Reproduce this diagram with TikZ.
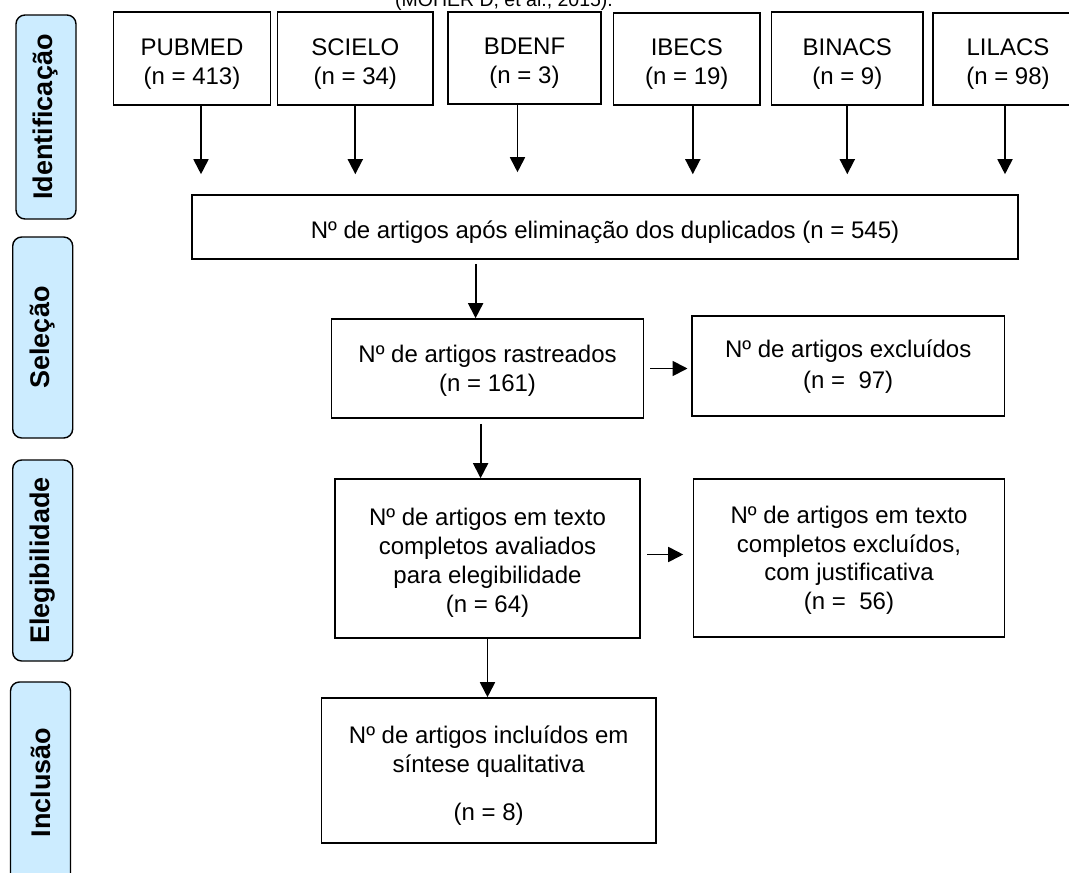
\documentclass[tikz,border=0pt]{standalone}
\usepackage{fontspec}
\setmainfont{Liberation Sans}
\usetikzlibrary{arrows.meta, positioning}

\definecolor{azulfase}{RGB}{204,236,255}

\tikzset{
    caixa/.style={draw, line width=1.6pt, align=center, inner sep=0pt,
        font=\fontsize{24}{28.7}\selectfont},
    base/.style={caixa, minimum height=93pt, text height=56pt, text depth=5pt},
    fase/.style={draw, line width=1.4pt, rounded corners=9pt, fill=azulfase,
        rotate=90, inner sep=0pt, minimum height=60pt,
        font=\fontsize{27}{30}\selectfont\bfseries},
    seta/.style={-{Triangle[length=15pt, width=15pt]}, line width=1.8pt},
}

\begin{document}
\begin{tikzpicture}[x=1pt, y=-1pt]
            \useasboundingbox (0, 0) rectangle (1069, 873);
            \clip (0, 0) rectangle (1069, 873);
            % fases
            \node[fase, minimum width=204pt] (ident) at (46, 117) {Identificação};
            \node[fase, minimum width=201pt] (selec) at (42.7, 337.5) {Seleção};
            \node[fase, minimum width=201pt] (eleg) at (42.7, 560.5) {Elegibilidade};
            \node[fase, minimum width=201pt] (incl) at (40.5, 782.5) {Inclusão};
            \node[font=\fontsize{19.5}{22}\selectfont, anchor=base] (fonte) at (504, 6) {(MOHER D, et al., 2015).};
            % bases
            \node[base, minimum width=157pt] (pubmed) at (192, 58.5) {PUBMED\\(n = 413)};
            \node[base, minimum width=155.5pt] (scielo) at (355.3, 58.5) {SCIELO\\(n = 34)};
            \node[base, minimum width=153pt, minimum height=92pt] (bdenf) at (524.5, 58) {BDENF\\(n = 3)};
            \node[base, minimum width=146.5pt, minimum height=92pt] (ibecs) at (686.8, 59) {IBECS\\(n = 19)};
            \node[base, minimum width=151.3pt] (binacs) at (847.3, 58.5) {BINACS\\(n = 9)};
            \node[base, minimum width=150pt, minimum height=92pt] (lilacs) at (1008, 59) {LILACS\\(n = 98)};
            % fluxo
            \node[caixa, minimum width=826pt, minimum height=64pt, text height=28pt, text depth=5pt] (dup) at (605, 227) {Nº de artigos após eliminação dos duplicados (n = 545)};
            \node[caixa, minimum width=312pt, minimum height=99pt, text height=50pt, text depth=5pt] (rastreados) at (487.6, 368.5) {Nº de artigos rastreados\\(n = 161)};
            \node[caixa, minimum width=312.8pt, minimum height=100pt, text height=49pt, text depth=5pt] (excluidos) at (848.2, 366) {Nº de artigos excluídos\\[2pt](n =~ 97)};
            \node[caixa, minimum width=305.5pt, minimum height=159pt, text height=112pt, text depth=5pt] (avaliados) at (487.5, 558.5) {Nº de artigos em texto\\completos avaliados\\para elegibilidade\\(n = 64)};
            \node[caixa, minimum width=311pt, minimum height=158pt, text height=108pt, text depth=5pt] (excluidostexto) at (849, 558) {Nº de artigos em texto\\completos excluídos,\\com justificativa\\(n =~ 56)};
            \node[caixa, minimum width=334.7pt, minimum height=145pt, text height=104pt, text depth=5pt] (incluidos) at (488.7, 770.5) {Nº de artigos incluídos em\\síntese qualitativa\\[19pt](n = 8)};
            % setas
            \draw[seta, shorten >=20pt] ([xshift=9pt]pubmed.south) -- ([xshift=9pt]pubmed.south |- dup.north);
            \draw[seta, shorten >=20pt] (scielo.south) -- (scielo.south |- dup.north);
            \draw[seta, shorten >=22pt] ([xshift=-7pt]bdenf.south) -- ([xshift=-7pt]bdenf.south |- dup.north);
            \draw[seta, shorten >=20pt] ([xshift=6pt]ibecs.south) -- ([xshift=6pt]ibecs.south |- dup.north);
            \draw[seta, shorten >=20pt] (binacs.south) -- (binacs.south |- dup.north);
            \draw[seta, shorten >=20pt] ([xshift=-3pt]lilacs.south) -- ([xshift=-3pt]lilacs.south |- dup.north);
            \draw[seta, shorten <=4pt] ([xshift=-12pt]rastreados.north |- dup.south) -- ([xshift=-12pt]rastreados.north);
            \draw[seta, shorten <=5pt] ([xshift=-7pt]rastreados.south) -- ([xshift=-7pt]rastreados.south |- avaliados.north);
            \draw[seta] (avaliados.south) -- (avaliados.south |- incluidos.north);
            \draw[seta, shorten <=6pt, shorten >=3.5pt] (rastreados.east) -- (rastreados.east -| excluidos.west);
            \draw[seta, shorten <=6pt, shorten >=9.5pt] ([yshift=4pt]avaliados.east) -- ([yshift=4pt]avaliados.east -| excluidostexto.west);
        \end{tikzpicture}
\end{document}
